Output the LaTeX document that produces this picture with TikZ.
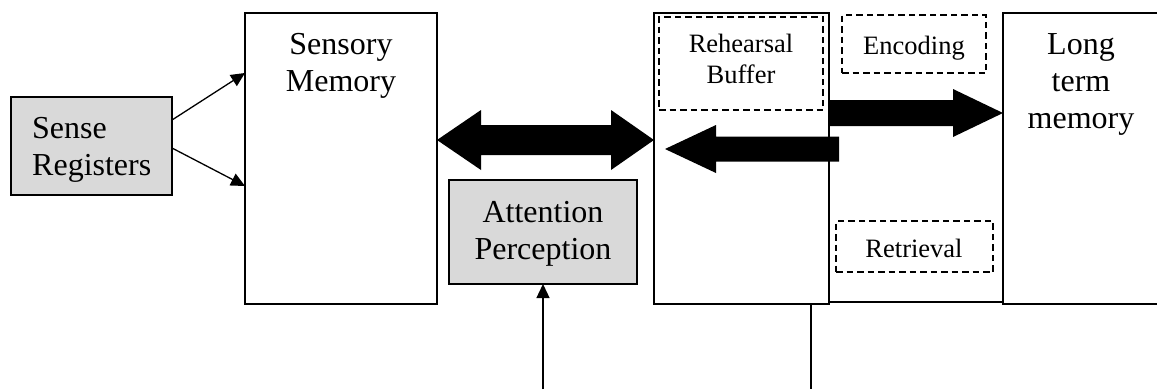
\documentclass[tikz,border=0pt]{standalone}
\usepackage{fontspec}
\setmainfont{Liberation Serif}
\usetikzlibrary{calc,arrows.meta}
\begin{document}
\begin{tikzpicture}[x=1pt,y=-1pt,
  box/.style={draw=black,line width=1.4pt,inner sep=0pt,outer sep=0pt,anchor=north west},
  dbox/.style={box,line width=1.9pt,dash pattern=on 6.5pt off 4pt},
  shade/.style={fill=black!15},
  big/.style={font=\fontsize{32}{37}\selectfont,inner sep=0pt,align=center},
  small/.style={font=\fontsize{26.5}{31}\selectfont,inner sep=0pt,align=center},
  thin/.style={line width=1.3pt,-{Triangle[length=14pt,width=13pt]}},
  fat/.style={fill=black}]
\useasboundingbox (0,0) rectangle (1157,389);
% boxes
\node[box,shade,minimum width=161pt,minimum height=98pt] (sr) at (11,97) {};
\node[box,minimum width=192pt,minimum height=291pt] (sm) at (245,13) {};
\node[box,shade,minimum width=188pt,minimum height=104pt] (ap) at (449,180) {};
\node[box,minimum width=175pt,minimum height=291pt] (stm) at (654,13) {};
\node[dbox,minimum width=164pt,minimum height=93pt] (rb) at (659,17) {};
\node[dbox,minimum width=144pt,minimum height=58pt] (enc) at (842,15) {};
\node[dbox,minimum width=157pt,minimum height=51pt] (ret) at (836,221) {};
\coordinate (ltmtop) at (1157,13);
\coordinate (ltmbot) at (1157,304);
\coordinate (ltmnw) at (1003,13);
\coordinate (ltmsw) at (1003,304);
\draw[line width=1.4pt] (ltmtop) -- (ltmnw) -- (ltmsw) -- (ltmbot);
\draw[line width=1.4pt] (stm.east |- 0,302) -- (ltmsw |- 0,302);
% labels
\node[big,anchor=west,align=left] (srl) at (32,149.5) {Sense\\Registers};
\node[big] (sml) at (341,65.5) {Sensory\\Memory};
\node[big] (apl) at (543,234) {Attention\\Perception};
\node[small] (rbl) at (741,59) {Rehearsal\\Buffer};
\node[small] (encl) at (914,48.5) {Encoding};
\node[small] (retl) at (914,248) {Retrieval};
\node[big] (ltml) at (1081,84) {Long\\term\\memory};
% thin arrows
\draw[thin] (sr.east |- 0,120) -- (sm.west |- 0,73);
\draw[thin] (sr.east |- 0,148) -- (sm.west |- 0,186);
\coordinate (apin) at (543,389);
\draw[thin] (apin) -- (ap.south);
\coordinate (stmout) at (811,389);
\draw[line width=1.3pt] (stm.south -| stmout) -- (stmout);
% fat arrows
\fill[fat] (sm.east |- 0,140) -- ++(44,-30) -- ++(0,15) -- ++(130,0) -- ++(0,-15)
  -- (stm.west |- 0,140) -- ++(-43,30) -- ++(0,-15) -- ++(-130,0) -- ++(0,15) -- cycle;
\fill[fat] (665,149) -- ++(51,-24) -- ++(0,11.5) -- (839,136.5) -- ++(0,25) -- (716,161.5)
  -- ++(0,11.5) -- cycle;
\fill[fat] (stm.east |- 0,100) -- (953,100) -- ++(0,-11) -- (ltmnw |- 0,113) -- (953,137)
  -- ++(0,-11) -- (stm.east |- 0,126) -- cycle;
\end{tikzpicture}
\end{document}
